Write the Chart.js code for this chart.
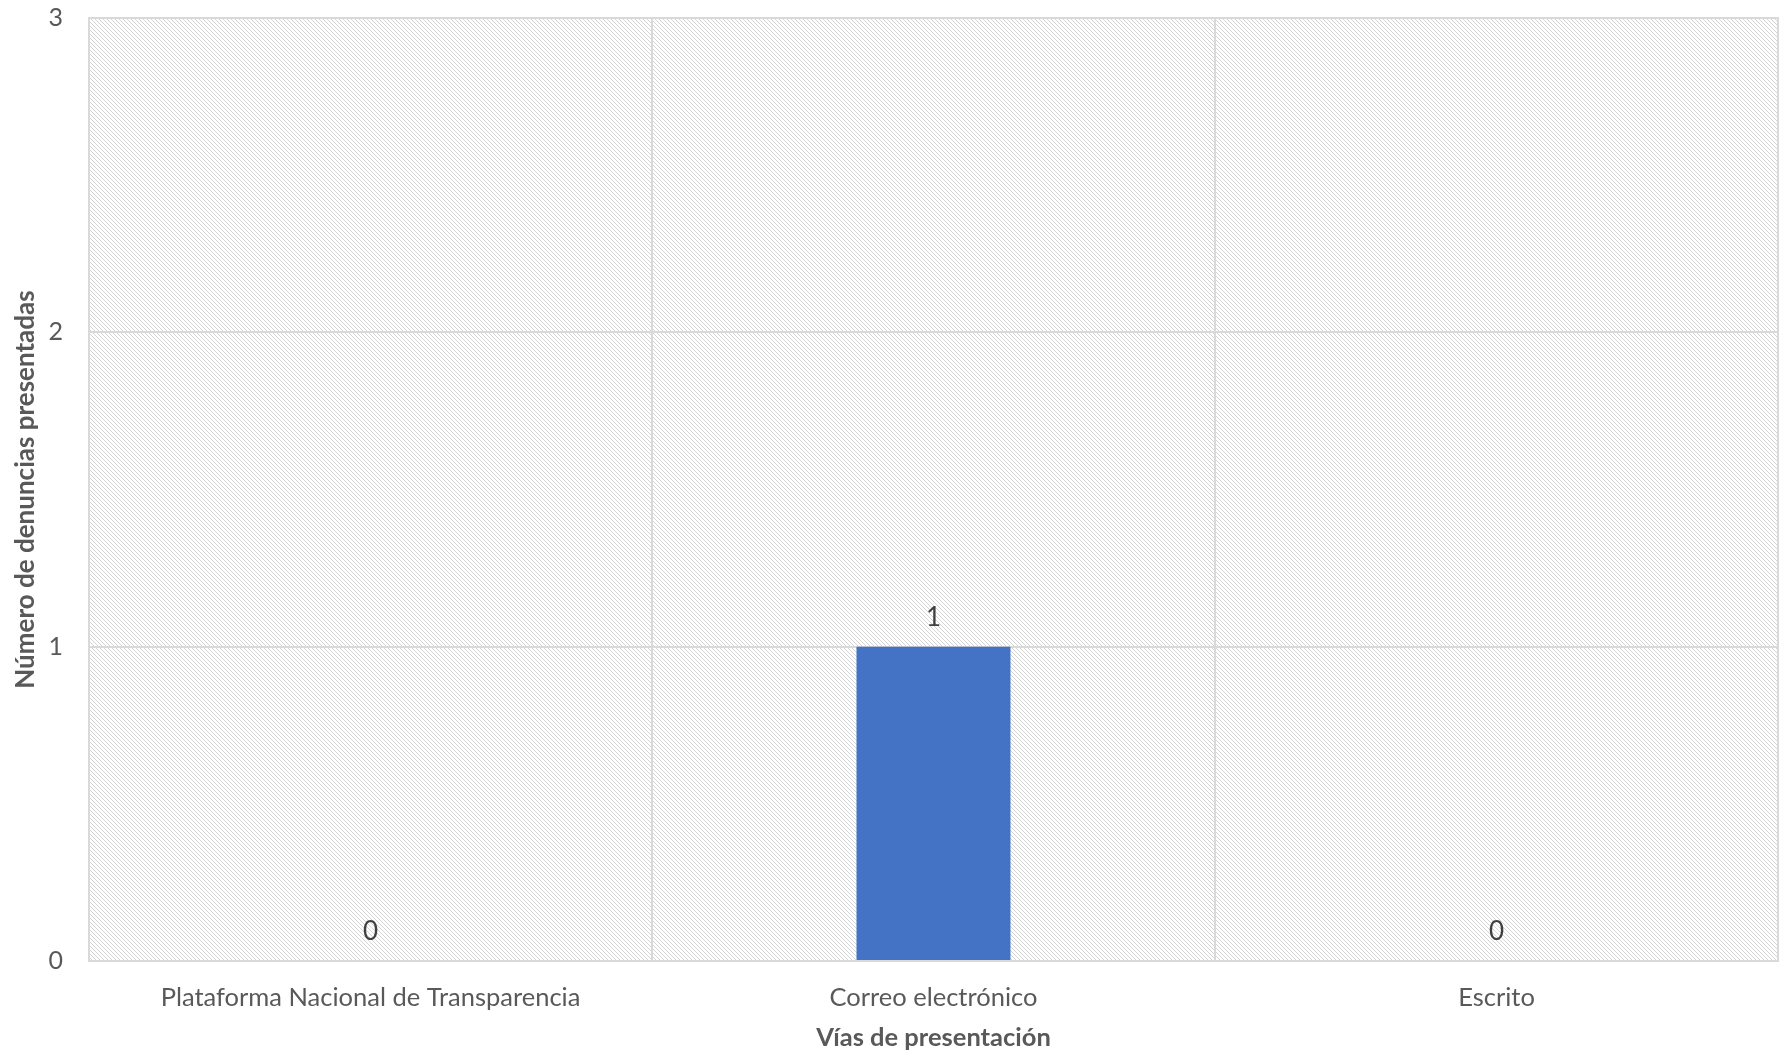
<!DOCTYPE html>
<html>
<head>
<meta charset="utf-8">
<script src="https://cdn.jsdelivr.net/npm/chart.js@4/dist/chart.umd.min.js"></script>
<style>
  html, body { margin: 0; padding: 0; background: #ffffff; }
  #wrap { width: 1787px; height: 1055px; position: relative; }
</style>
</head>
<body>
<div id="wrap"><canvas id="c" width="1787" height="1055"></canvas></div>
<script>
const categories = ["Plataforma Nacional de Transparencia", "Correo electrónico", "Escrito"];
const values = [0, 1, 0];
const yTicks = [0, 1, 2, 3];
const xTitle = "Vías de presentación";
const yTitle = "Número de denuncias presentadas";

const FONT = "Lato, 'Open Sans', sans-serif";

function makePattern(ctx) {
  const pc = document.createElement('canvas');
  pc.width = 8; pc.height = 8;
  const p = pc.getContext('2d');
  p.fillStyle = '#ffffff';
  p.fillRect(0, 0, 8, 8);
  p.fillStyle = '#d4d4d4';
  for (let y = 0; y < 8; y++) {
    for (let x = 0; x < 8; x++) {
      if (((x - y) % 4 + 4) % 4 === 0) p.fillRect(x, y, 1, 1);
    }
  }
  return ctx.createPattern(pc, 'repeat');
}

const bgPlugin = {
  id: 'hatchBg',
  beforeDraw(chart) {
    const { ctx, chartArea: a } = chart;
    ctx.save();
    ctx.fillStyle = makePattern(ctx);
    ctx.fillRect(a.left, a.top, a.right - a.left, a.bottom - a.top);
    ctx.restore();
  },
  afterDraw(chart) {
    const { ctx, chartArea: a } = chart;
    ctx.save();
    ctx.strokeStyle = '#d9d9d9';
    ctx.lineWidth = 2;
    ctx.strokeRect(a.left, a.top, a.right - a.left, a.bottom - a.top);
    ctx.restore();
  }
};

const labelPlugin = {
  id: 'valueLabels',
  afterDatasetsDraw(chart) {
    const { ctx } = chart;
    const meta = chart.getDatasetMeta(0);
    const yScale = chart.scales.y;
    ctx.save();
    ctx.font = "26px " + FONT;
    ctx.fillStyle = '#404040';
    ctx.textAlign = 'center';
    ctx.textBaseline = 'middle';
    meta.data.forEach((bar, i) => {
      const v = chart.data.datasets[0].data[i];
      const y = yScale.getPixelForValue(v) - 29;
      ctx.fillText(String(v), bar.x, y);
    });
    ctx.restore();
  }
};

new Chart(document.getElementById('c'), {
  type: 'bar',
  data: {
    labels: categories,
    datasets: [{
      data: values,
      backgroundColor: '#4472C4',
      borderWidth: 0,
      barPercentage: 0.2735,
      categoryPercentage: 1.0
    }]
  },
  options: {
    responsive: false,
    animation: false,
    devicePixelRatio: 1,
    layout: { padding: { top: 18, right: 9, left: 0, bottom: 0 } },
    plugins: { legend: { display: false }, tooltip: { enabled: false } },
    scales: {
      x: {
        grid: { color: '#d9d9d9', lineWidth: 2, offset: true, drawTicks: false },
        border: { display: false },
        ticks: { color: '#595959', font: { family: FONT, size: 25.5 }, padding: 21, maxRotation: 0, autoSkip: false },
        title: { display: true, text: xTitle, color: '#595959', font: { family: FONT, size: 25.5, weight: 'bold' }, padding: { top: 0, bottom: 2 } },
        afterFit(s) { s.height = 94; s.paddingLeft = 0; s.paddingRight = 0; }
      },
      y: {
        min: 0, max: 3,
        afterBuildTicks(s) { s.ticks = yTicks.map(v => ({ value: v })); },
        grid: { color: '#d9d9d9', lineWidth: 2, drawTicks: false },
        border: { display: false },
        ticks: { color: '#595959', font: { family: FONT, size: 25 }, padding: 26, stepSize: 1 },
        title: { display: true, text: yTitle, color: '#595959', font: { family: FONT, size: 26, weight: 'bold' }, padding: { top: 10, bottom: 0 } },
        afterFit(s) { s.width = 89; s.paddingTop = 0; s.paddingBottom = 0; }
      }
    }
  },
  plugins: [bgPlugin, labelPlugin]
});
</script>
</body>
</html>
